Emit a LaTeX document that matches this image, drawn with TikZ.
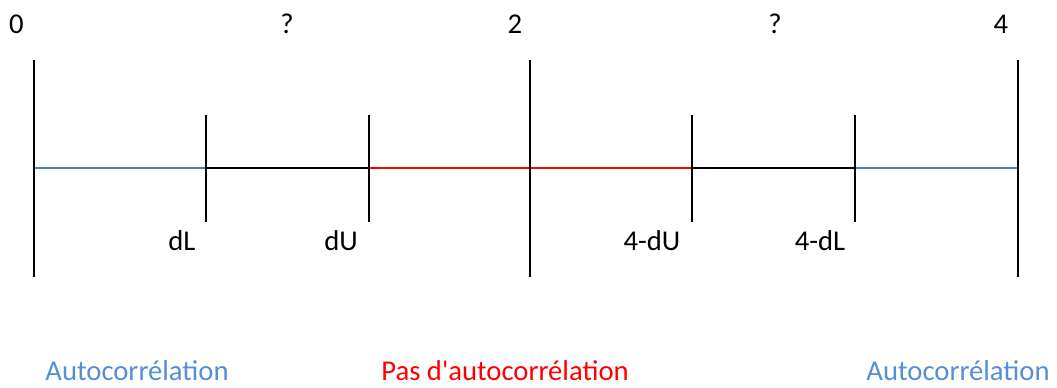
\documentclass[tikz,border=0pt]{standalone}
\usepackage{fontspec}
\setmainfont{Carlito}[Ligatures=TeXOff]
\usepackage{tikz}
\usetikzlibrary{positioning}
\definecolor{axisblue}{RGB}{79,129,189}
\definecolor{textblue}{RGB}{85,142,213}
\definecolor{axisred}{RGB}{255,0,0}

\begin{document}
\begin{tikzpicture}[
    x=0.75pt, y=-0.75pt,
    lbl/.style={inner sep=0pt, anchor=base, font=\fontsize{21.5}{26}\selectfont},
    zone/.style={lbl, text=textblue},
    tick/.style={line width=1.5pt, black},
    seg/.style={line width=1.2pt},
  ]
    \useasboundingbox (0,0) rectangle (1057,387);
    % ---- axis points ----
    \coordinate (p0) at (34,168);
    \coordinate (pL) at (206,168);
    \coordinate (pU) at (369,168);
    \coordinate (p2) at (530,168);
    \coordinate (q4U) at (692,168);
    \coordinate (q4L) at (855,168);
    \coordinate (p4) at (1018,168);

    % ---- horizontal segments ----
    \draw[seg, axisblue] (p0) -- (pL);
    \draw[seg] (pL) -- (pU);
    \draw[seg, axisred] (pU) -- (q4U);
    \draw[seg] (q4U) -- (q4L);
    \draw[seg, axisblue] (q4L) -- (p4);

    % ---- long and short ticks ----
    \foreach \p in {p0,p2,p4}
      \draw[tick] ([yshift=81pt]\p) -- ([yshift=-81.75pt]\p);
    \foreach \p in {pL,pU,q4U,q4L}
      \draw[tick] ([yshift=39.75pt]\p) -- ([yshift=-40.5pt]\p);

    % ---- top labels ----
    \node[lbl] (t0) at (16.5,33) {0};
    \node[lbl] (tq1) at (287,33) {?};
    \node[lbl] (t2) at (515,33) {2};
    \node[lbl] (tq2) at (775,33) {?};
    \node[lbl] (t4) at (1001,33) {4};

    % ---- bound labels ----
    \node[lbl] (dL) at (182,250) {dL};
    \node[lbl] (dU) at (341,250) {dU};
    \node[lbl] (fdU) at (652,250) {4-dU};
    \node[lbl] (fdL) at (820,250) {4-dL};

    % ---- zones ----
    \node[zone] (zleft) at (137,380) {Autocorrélation};
    \node[lbl, text=axisred] (zmid) at (505,380) {Pas d'autocorrélation};
    \node[zone] (zright) at (958,380) {Autocorrélation};
\end{tikzpicture}
\end{document}
